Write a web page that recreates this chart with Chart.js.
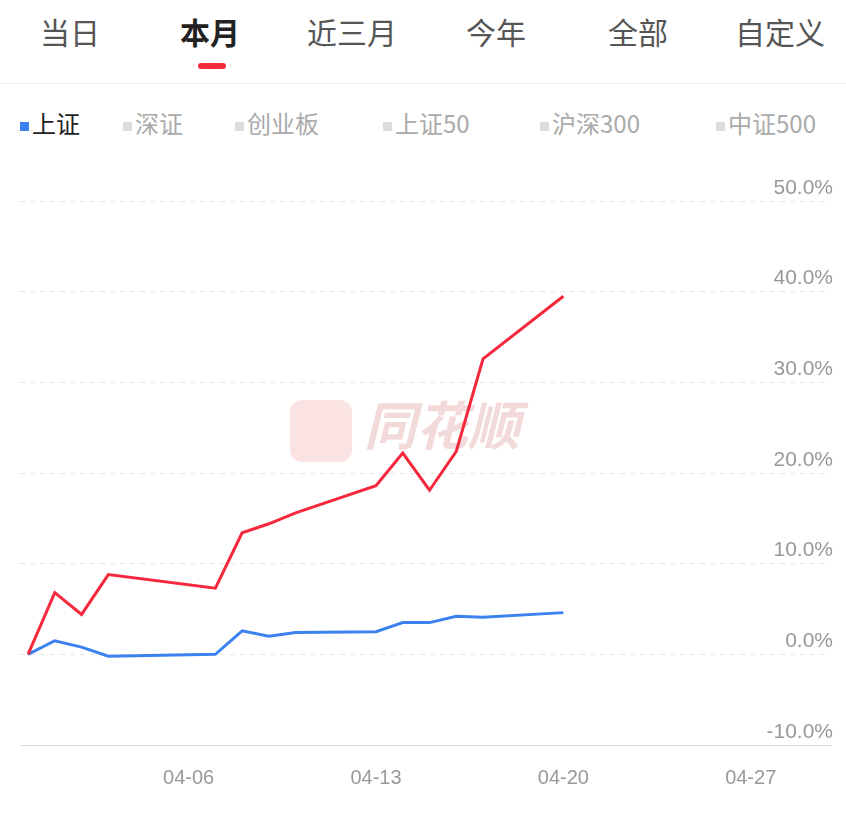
<!DOCTYPE html>
<html><head><meta charset="utf-8">
<script src="https://cdn.jsdelivr.net/npm/chart.js@4"></script>
<style>
body{margin:0;width:846px;height:839px;background:#fff;font-family:"Noto Sans CJK SC","Noto Sans",sans-serif;position:relative;overflow:hidden}
.tab{position:absolute;top:9px;font-size:30px;color:#555}
.tabs{position:absolute;left:0;top:0;width:846px;height:83px;border-bottom:1px solid #eee}
.lg{position:absolute;top:105px;font-size:24px;color:#aaa}
.lg i{display:inline-block;width:9px;height:9px;background:#ddd;margin-right:3px;vertical-align:middle}
#wrap{position:absolute;left:0;top:170px;width:846px;height:633px}
.wm{position:absolute;left:290px;top:385px;font-size:52px;color:#f3dada;font-style:italic;font-weight:bold}
.wm span{display:inline-block;width:62px;height:62px;border-radius:12px;background:#fbe3e3;vertical-align:middle;margin-right:12px}
</style></head><body>
<div class="tabs">
<div class="tab" style="left:40px">当日</div>
<div class="tab" style="left:180px;color:#222;font-weight:bold">本月</div>
<div style="position:absolute;left:198px;top:63px;width:28px;height:6px;border-radius:3px;background:#f5283c"></div>
<div class="tab" style="left:307px">近三月</div>
<div class="tab" style="left:466px">今年</div>
<div class="tab" style="left:608px">全部</div>
<div class="tab" style="left:735px">自定义</div>
</div>
<div class="lg" style="left:20px;color:#222"><i style="background:#3b82f0"></i>上证</div>
<div class="lg" style="left:123px"><i></i>深证</div>
<div class="lg" style="left:235px"><i></i>创业板</div>
<div class="lg" style="left:383px"><i></i>上证50</div>
<div class="lg" style="left:540px"><i></i>沪深300</div>
<div class="lg" style="left:716px"><i></i>中证500</div>
<div class="wm"><span></span>同花顺</div>
<div id="wrap"><canvas id="c"></canvas></div>
<script>
const days=[0,1,2,3,7,8,9,10,13,14,15,16,17,20];
const redVals=[0,6.8,4.4,8.8,7.3,13.4,14.4,15.6,18.6,22.2,18.1,22.4,32.6,39.5];
const blueVals=[0,1.5,0.8,-0.2,0.0,2.6,2.0,2.4,2.5,3.5,3.5,4.2,4.1,4.6];
const tickDays=[6,13,20,27];
const tickLabels=["04-06","04-13","04-20","04-27"];
const pts=v=>days.map((d,i)=>({x:d,y:v[i]}));
new Chart(document.getElementById('c'),{type:'line',
data:{datasets:[
{data:pts(redVals),borderColor:'#f5283c',borderWidth:3,pointRadius:0,tension:0},
{data:pts(blueVals),borderColor:'#3b82f0',borderWidth:3,pointRadius:0,tension:0}]},
options:{responsive:true,maintainAspectRatio:false,animation:false,
layout:{padding:{left:20,right:11,top:31,bottom:0}},
plugins:{legend:{display:false},tooltip:{enabled:false}},
scales:{
x:{type:'linear',min:-0.3,max:30,
afterBuildTicks:a=>{a.ticks=tickDays.map(v=>({value:v}));},
ticks:{callback:(v)=>tickLabels[tickDays.indexOf(v)],color:'#999',font:{size:20},padding:13,autoSkip:false,maxRotation:0},
grid:{display:false},border:{color:'#ddd',width:1}},
y:{position:'right',min:-10,max:50,
afterBuildTicks:a=>{a.ticks=[-10,0,10,20,30,40,50].map(v=>({value:v}));},
ticks:{mirror:true,labelOffset:-13,padding:2,color:'#999',font:{size:21},callback:v=>v.toFixed(1)+'%'},
grid:{color:'#e6e6e6',drawTicks:false,lineWidth:1},border:{display:false,dash:[5,5]}}
}}});
</script></body></html>
